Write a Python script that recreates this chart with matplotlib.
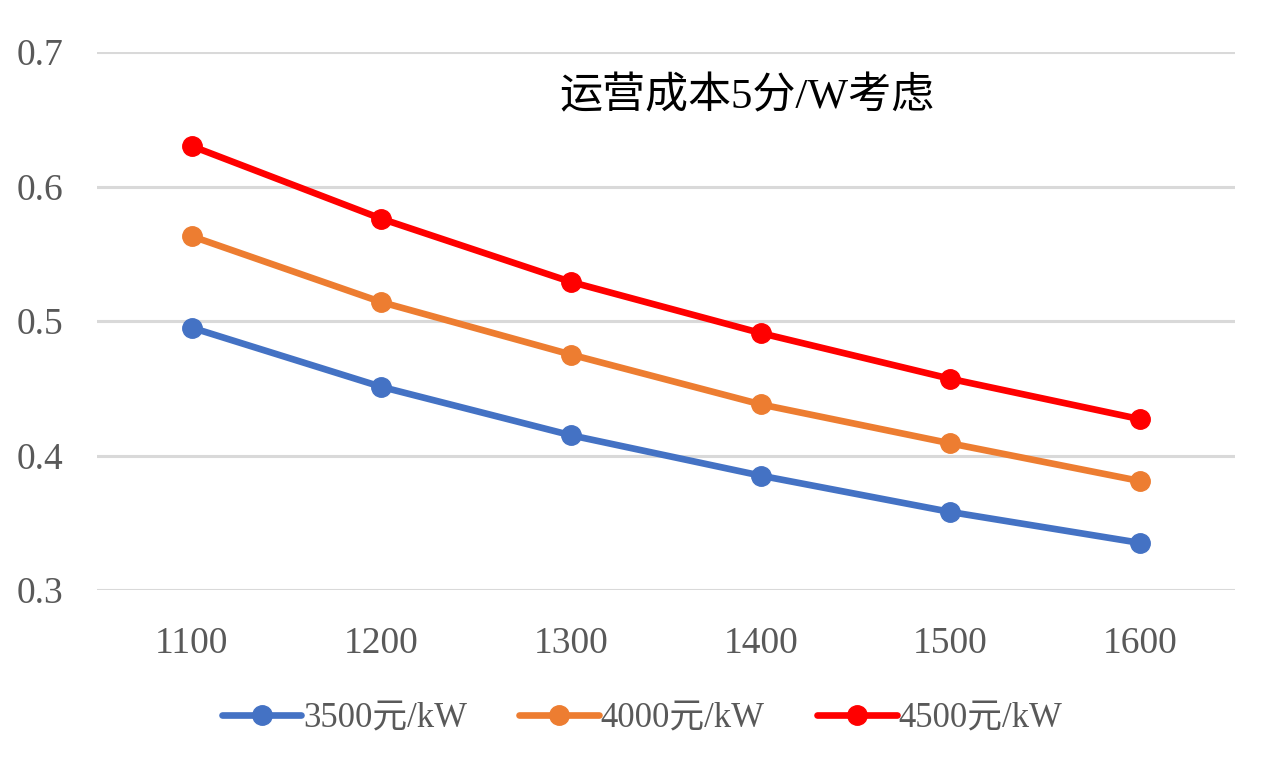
import matplotlib
matplotlib.use("Agg")
import matplotlib.pyplot as plt

# Data
x_values = [1100, 1200, 1300, 1400, 1500, 1600]
cost_3500 = [0.495, 0.451, 0.415, 0.385, 0.358, 0.335]
cost_4000 = [0.563, 0.514, 0.475, 0.438, 0.409, 0.381]
cost_4500 = [0.630, 0.576, 0.529, 0.491, 0.457, 0.427]
series_labels = ["3500元/kW", "4000元/kW", "4500元/kW"]
y_ticks = [0.3, 0.4, 0.5, 0.6, 0.7]
title_text = "运营成本5分/W考虑"

serif_fonts = ["Liberation Serif", "Noto Sans CJK SC", "DejaVu Sans"]

fig = plt.figure(figsize=(12.74, 7.76), dpi=100)
ax = fig.add_axes([97 / 1274, 186 / 776, (1235 - 97) / 1274, 538 / 776])

colors = ["#4472C4", "#ED7D31", "#FF0000"]
for values, label, color in zip([cost_3500, cost_4000, cost_4500], series_labels, colors):
    ax.plot(x_values, values, color=color, linewidth=4.8, marker="o",
            markersize=14, label=label, solid_capstyle="round", zorder=3)

ax.set_xlim(1050, 1650)
ax.set_ylim(0.3, 0.7)
ax.set_yticks(y_ticks)
ax.set_yticklabels([f"{v:.1f}" for v in y_ticks])
ax.set_xticks(x_values)
ax.set_xticklabels([str(v) for v in x_values])
ax.grid(axis="y", color="#D9D9D9", linewidth=2.2)
ax.set_axisbelow(True)
for side in ["top", "right", "left", "bottom"]:
    ax.spines[side].set_visible(False)
ax.tick_params(length=0, colors="#595959", labelsize=27)
ax.tick_params(axis="y", pad=24)
ax.tick_params(axis="x", pad=26)
for lbl in ax.get_xticklabels() + ax.get_yticklabels():
    lbl.set_family(serif_fonts)

fig.text(747 / 1274, 1 - 97 / 776, title_text, ha="center", va="center",
         fontsize=31, family=serif_fonts, color="black")

leg = ax.legend(loc="center", bbox_to_anchor=(642 / 1274, 1 - 719 / 776),
                bbox_transform=fig.transFigure, ncol=3, frameon=False,
                prop={"family": serif_fonts, "size": 25}, handlelength=2.3,
                columnspacing=1.5, handletextpad=0.05)
for t in leg.get_texts():
    t.set_color("#595959")

fig.savefig("out.png", dpi=100, facecolor="white")
